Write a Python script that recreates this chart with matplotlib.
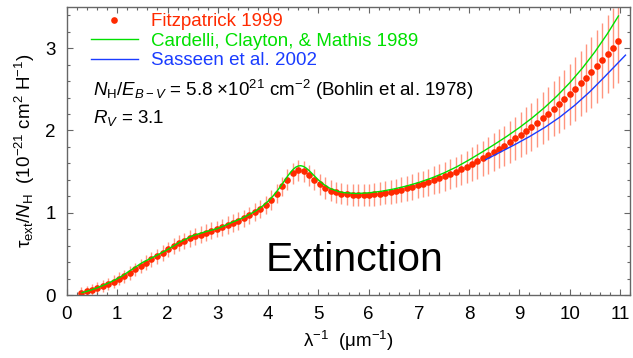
import matplotlib
matplotlib.use("Agg")
import matplotlib.pyplot as plt
from matplotlib.ticker import MultipleLocator

plt.rcParams["font.family"] = ["Liberation Sans", "DejaVu Sans"]
plt.rcParams["mathtext.fontset"] = "custom"
plt.rcParams["mathtext.rm"] = "Liberation Sans"
plt.rcParams["mathtext.it"] = "Liberation Sans:italic"
plt.rcParams["mathtext.bf"] = "Liberation Sans:bold"

# Fitzpatrick (1999) curve, R_V = 3.1, tau/N_H in 1e-21 cm^2 per H
f99_x = [0.28, 0.39, 0.50, 0.60, 0.71, 0.82, 0.93, 1.04, 1.14, 1.25,
         1.36, 1.47, 1.58, 1.68, 1.79, 1.90, 2.01, 2.12, 2.22, 2.33,
         2.44, 2.55, 2.66, 2.76, 2.87, 2.98, 3.09, 3.20, 3.30, 3.41,
         3.52, 3.63, 3.74, 3.84, 3.95, 4.06, 4.17, 4.28, 4.38, 4.49,
         4.60, 4.71, 4.82, 4.92, 5.03, 5.14, 5.25, 5.36, 5.46, 5.57,
         5.68, 5.79, 5.90, 6.00, 6.11, 6.22, 6.33, 6.44, 6.54, 6.65,
         6.76, 6.87, 6.98, 7.08, 7.19, 7.30, 7.41, 7.52, 7.62, 7.73,
         7.84, 7.95, 8.06, 8.16, 8.27, 8.38, 8.49, 8.60, 8.70, 8.81,
         8.92, 9.03, 9.14, 9.24, 9.35, 9.46, 9.57, 9.68, 9.78, 9.89,
         10.00, 10.11, 10.22, 10.32, 10.43, 10.54, 10.65, 10.76, 10.86, 10.97]
f99_tau = [0.027, 0.044, 0.064, 0.083, 0.106, 0.132, 0.162, 0.196, 0.229, 0.269,
           0.310, 0.352, 0.394, 0.432, 0.471, 0.512, 0.554, 0.596, 0.627, 0.657,
           0.687, 0.713, 0.735, 0.756, 0.780, 0.803, 0.826, 0.850, 0.875, 0.902,
           0.932, 0.967, 1.007, 1.044, 1.094, 1.155, 1.231, 1.319, 1.403, 1.479,
           1.514, 1.501, 1.453, 1.400, 1.346, 1.302, 1.269, 1.246, 1.232, 1.222,
           1.217, 1.215, 1.216, 1.218, 1.224, 1.231, 1.241, 1.252, 1.264, 1.279,
           1.295, 1.312, 1.331, 1.349, 1.371, 1.394, 1.418, 1.444, 1.469, 1.497,
           1.527, 1.559, 1.592, 1.623, 1.659, 1.696, 1.735, 1.775, 1.814, 1.857,
           1.902, 1.949, 1.998, 2.044, 2.096, 2.149, 2.205, 2.262, 2.316, 2.377,
           2.440, 2.505, 2.572, 2.635, 2.705, 2.778, 2.853, 2.930, 3.002, 3.083]
f99_err = [0.070, 0.070, 0.070, 0.070, 0.072, 0.074, 0.076, 0.078, 0.080, 0.082,
           0.084, 0.086, 0.088, 0.090, 0.092, 0.094, 0.095, 0.096, 0.097, 0.098,
           0.099, 0.100, 0.100, 0.101, 0.102, 0.102, 0.103, 0.104, 0.105, 0.106,
           0.107, 0.108, 0.110, 0.112, 0.114, 0.116, 0.118, 0.120, 0.123, 0.126,
           0.128, 0.129, 0.129, 0.130, 0.130, 0.130, 0.130, 0.130, 0.131, 0.131,
           0.132, 0.133, 0.134, 0.135, 0.137, 0.139, 0.141, 0.143, 0.146, 0.149,
           0.152, 0.155, 0.158, 0.161, 0.165, 0.169, 0.173, 0.177, 0.181, 0.186,
           0.191, 0.196, 0.202, 0.208, 0.215, 0.222, 0.229, 0.237, 0.245, 0.253,
           0.262, 0.271, 0.281, 0.291, 0.301, 0.312, 0.323, 0.335, 0.347, 0.359,
           0.372, 0.385, 0.399, 0.413, 0.427, 0.442, 0.457, 0.473, 0.489, 0.505]

# Cardelli, Clayton & Mathis (1989)
ccm_x = [0.3, 0.4, 0.5, 0.6, 0.7, 0.8, 0.9, 1.0, 1.1, 1.25,
         1.5, 1.75, 1.82, 2.0, 2.25, 2.5, 2.75, 3.0, 3.3, 3.5,
         3.75, 3.9, 4.0, 4.1, 4.15, 4.2, 4.25, 4.3, 4.35, 4.4,
         4.45, 4.5, 4.55, 4.6, 4.65, 4.7, 4.75, 4.8, 4.85, 4.9,
         5.0, 5.1, 5.2, 5.25, 5.4, 5.5, 5.75, 6.0, 6.25, 6.5,
         6.75, 7.0, 7.25, 7.5, 7.75, 8.0, 8.25, 8.5, 8.75, 9.0,
         9.25, 9.5, 9.75, 10.0, 10.25, 10.5, 10.75, 10.97]
ccm_tau = [0.0286, 0.0455, 0.0651, 0.0874, 0.1120, 0.1388, 0.1678, 0.1988, 0.2319, 0.2941,
           0.3946, 0.4708, 0.4922, 0.5523, 0.6438, 0.7208, 0.7677, 0.8084, 0.8870, 0.9377,
           1.0196, 1.0853, 1.1395, 1.2040, 1.2406, 1.2800, 1.3220, 1.3657, 1.4101, 1.4534,
           1.4934, 1.5275, 1.5530, 1.5680, 1.5714, 1.5635, 1.5459, 1.5211, 1.4917, 1.4602,
           1.3990, 1.3469, 1.3067, 1.2909, 1.2576, 1.2447, 1.2333, 1.2412, 1.2601, 1.2880,
           1.3239, 1.3679, 1.4209, 1.4835, 1.5568, 1.6422, 1.7343, 1.8289, 1.9282, 2.0346,
           2.1505, 2.2781, 2.4199, 2.5781, 2.7551, 2.9532, 3.1747, 3.3910]

# Sasseen et al. (2002), far-UV only
sas_x = [8.33, 8.6, 8.9, 9.2, 9.5, 9.8, 10.1, 10.4, 10.7, 11.0, 11.11]
sas_tau = [1.645, 1.730, 1.825, 1.925, 2.035, 2.160, 2.305, 2.470, 2.655, 2.845, 2.915]

red = "#ff2a00"
green = "#00e000"
blue = "#1a3cff"

fig = plt.figure(figsize=(6.33, 3.58), dpi=100)
ax = fig.add_axes([67 / 633, 1 - 295 / 358, 563 / 633, 288 / 358])

ax.errorbar(f99_x, f99_tau, yerr=f99_err, fmt="none", ecolor="#ff957f",
            elinewidth=1.0, capsize=0, zorder=1)
ax.plot(f99_x, f99_tau, "o", color=red, ms=4.8, mec="none", zorder=2,
        label="Fitzpatrick 1999")
ax.plot(ccm_x, ccm_tau, "-", color=green, lw=1.0, zorder=3,
        label="Cardelli, Clayton, & Mathis 1989")
ax.plot(sas_x, sas_tau, "-", color=blue, lw=1.0, zorder=3,
        label="Sasseen et al. 2002")

ax.set_xlim(0, 11.2)
ax.set_ylim(0, 3.5)
ax.xaxis.set_major_locator(MultipleLocator(1))
ax.xaxis.set_minor_locator(MultipleLocator(0.2))
ax.yaxis.set_major_locator(MultipleLocator(1))
ax.yaxis.set_minor_locator(MultipleLocator(0.2))
ax.tick_params(which="both", direction="in", top=True, right=True,
               color="#666666", width=0.8)
ax.tick_params(which="major", length=4, labelsize=13.5, pad=8)
ax.tick_params(which="minor", length=2)
for s in ax.spines.values():
    s.set_color("#666666")
    s.set_linewidth(1.0)

ax.set_xlabel("λ$^{-1}$  (μm$^{-1}$)", fontsize=13.5, labelpad=4)
ax.set_ylabel("τ$_{\\rm ext}$/$N_{\\rm H}$  (10$^{-21}$ cm$^{2}$ H$^{-1}$)",
              fontsize=13.5, labelpad=6)

leg = ax.legend(loc="upper left", bbox_to_anchor=(0.042, 0.978), frameon=False,
                fontsize=13.5, handlelength=2.5, handletextpad=0.7,
                labelspacing=0.12, borderpad=0, borderaxespad=0,
                numpoints=1, labelcolor=[red, green, blue])

ax.text(0.046, 0.712, "$N_{\\rm H}$/$E_{B-V}$ = 5.8 ×10$^{21}$ cm$^{-2}$ (Bohlin et al. 1978)",
        transform=ax.transAxes, fontsize=13.5, va="center", ha="left")
ax.text(0.046, 0.615, "$R_V$ = 3.1", transform=ax.transAxes, fontsize=13.5,
        va="center", ha="left")
ax.text(0.511, 0.083, "Extinction", transform=ax.transAxes, fontsize=29.5,
        ha="center", va="baseline")

fig.savefig("out.png", dpi=100)
